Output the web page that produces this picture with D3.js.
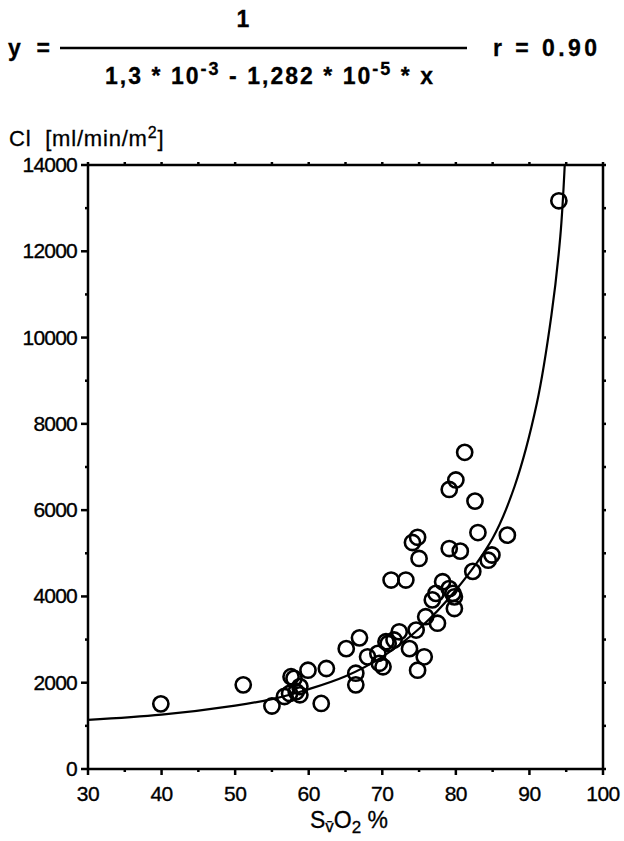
<!DOCTYPE html>
<html>
<head>
<meta charset="utf-8">
<script src="https://cdn.jsdelivr.net/npm/d3@7"></script>
<style>
  body { margin: 0; background: #fff; }
  svg text { font-family: "Liberation Sans", Arial, sans-serif; fill: #000; }
</style>
</head>
<body>
<div id="chart"></div>
<script>
// SvO2 (%) of each measurement
const svo2 = [39.9, 51.1, 55.0, 56.7, 57.4, 57.6, 58.0, 58.3, 58.8, 58.8,
  59.9, 61.7, 62.4, 65.1, 66.4, 66.4, 66.9, 68.0, 69.4, 69.6,
  70.1, 70.5, 70.8, 71.6, 72.3, 73.7, 74.8, 75.7, 74.6, 75.9,
  77.5, 76.8, 77.3, 79.6, 79.8, 79.8, 78.2, 79.1, 71.2, 73.2,
  74.1, 74.8, 75.0, 79.1, 80.6, 82.3, 84.4, 84.9, 83.0, 87.0,
  82.6, 79.1, 80.0, 81.2, 94.0];
// cardiac index (ml/min/m2) for the same points
const ci = [1510, 1950, 1460, 1680, 1750, 2140, 2100, 1790, 1910, 1720,
  2290, 1520, 2330, 2790, 2220, 1950, 3040, 2600, 2680, 2450,
  2370, 2950, 2910, 2990, 3180, 2790, 2290, 2600, 3220, 3530,
  3380, 3920, 4070, 4070, 3990, 3720, 4340, 4180, 4380, 4380,
  5250, 5370, 4880, 5110, 5050, 4580, 4840, 4960, 5480, 5420,
  6210, 6480, 6700, 7340, 13170];

// fitted curve
const fitX = [30, 40, 50, 55, 60, 65, 70, 75, 80, 85, 88, 91, 93, 94.2, 94.8];
const fitY = [1140, 1260, 1470, 1620, 1850, 2150, 2600, 3250, 4150, 5350, 6560, 8470, 10530, 12350, 14000];

const xTicks = [30, 40, 50, 60, 70, 80, 90, 100];
const yTicks = [0, 2000, 4000, 6000, 8000, 10000, 12000, 14000];

const W = 624, H = 841;
const margin = { left: 88, right: 21, top: 165, bottom: 72 };

const svg = d3.select("#chart").append("svg")
  .attr("width", W)
  .attr("height", H);

const x = d3.scaleLinear().domain([30, 100]).range([margin.left, W - margin.right]);
const y = d3.scaleLinear().domain([0, 14000]).range([H - margin.bottom, margin.top]);

// Equation header
const eq = svg.append("g")
  .style("font-weight", "bold").style("font-size", "23px")
  .attr("stroke", "#000").attr("stroke-width", 0.3);
eq.append("text").attr("x", 8).attr("y", 56)
  .attr("textLength", 42).attr("lengthAdjust", "spacing")
  .attr("xml:space", "preserve").text("y =");
eq.append("line")
  .attr("x1", 60).attr("x2", 467).attr("y1", 48).attr("y2", 48)
  .attr("stroke", "#000").attr("stroke-width", 2.4);
eq.append("text").attr("x", 243).attr("y", 27).attr("text-anchor", "middle").text("1");
const den = eq.append("text").attr("x", 105).attr("y", 84)
  .attr("textLength", 328).attr("lengthAdjust", "spacing")
  .attr("xml:space", "preserve");
den.append("tspan").text("1,3 * 10");
den.append("tspan").attr("dy", -9).style("font-size", "18px").text("-3");
den.append("tspan").attr("dy", 9).text(" - 1,282 * 10");
den.append("tspan").attr("dy", -9).style("font-size", "18px").text("-5");
den.append("tspan").attr("dy", 9).text(" * x");
eq.append("text").attr("x", 493).attr("y", 56)
  .attr("textLength", 104).attr("lengthAdjust", "spacing")
  .attr("xml:space", "preserve").text("r = 0.90");

// Axis frame
const frame = svg.append("g");
const axisLine = (x1, y1, x2, y2) => frame.append("line")
  .attr("x1", x1).attr("y1", y1).attr("x2", x2).attr("y2", y2)
  .attr("stroke", "#000").attr("stroke-width", 2.5);

const minorX = d3.range(35, 100, 10);
const minorY = d3.range(1000, 14000, 2000);

// ticks
xTicks.forEach(t => axisLine(x(t), y(0), x(t), y(0) + 6));
minorX.forEach(t => axisLine(x(t), y(0), x(t), y(0) + 3));
xTicks.concat(minorX).forEach(t => axisLine(x(t), y(14000), x(t), y(14000) - 3));
yTicks.forEach(t => axisLine(x(30), y(t), x(30) - 7, y(t)));
minorY.forEach(t => axisLine(x(30), y(t), x(30) - 3, y(t)));
yTicks.concat(minorY).forEach(t => axisLine(x(100), y(t), x(100) + 3, y(t)));

axisLine(x(30), y(0), x(100), y(0));
axisLine(x(30), y(0), x(30), y(14000));
axisLine(x(30), y(14000), x(100), y(14000));
axisLine(x(100), y(0), x(100), y(14000));

// tick labels
const labels = svg.append("g")
  .style("font-size", "21px")
  .attr("stroke", "#000").attr("stroke-width", 0.35);

labels.append("g").selectAll("text")
  .data(xTicks)
  .join("text")
  .attr("x", d => x(d))
  .attr("y", y(0) + 32)
  .attr("text-anchor", "middle")
  .style("letter-spacing", "-0.5px")
  .text(d => d);

labels.append("g").selectAll("text")
  .data(yTicks)
  .join("text")
  .attr("x", x(30) - 11)
  .attr("y", d => y(d) + 7)
  .attr("text-anchor", "end")
  .style("letter-spacing", "-0.8px")
  .text(d => d);

// axis titles
const yTitle = svg.append("text").attr("x", 9).attr("y", 146)
  .attr("xml:space", "preserve").style("font-size", "22px")
  .style("letter-spacing", "0.8px")
  .attr("stroke", "#000").attr("stroke-width", 0.3);
yTitle.append("tspan").text("Cl  [ml/min/m");
yTitle.append("tspan").attr("dy", -8).style("font-size", "16px").text("2");
yTitle.append("tspan").attr("dy", 8).text("]");

const xTitle = svg.append("text").attr("x", 349).attr("y", 828)
  .attr("text-anchor", "middle").attr("xml:space", "preserve").style("font-size", "23px")
  .attr("stroke", "#000").attr("stroke-width", 0.3);
xTitle.append("tspan").text("S");
xTitle.append("tspan").attr("dy", 4).style("font-size", "17px").text("v\u0304");
xTitle.append("tspan").attr("dy", -4).text("O");
xTitle.append("tspan").attr("dy", 5).style("font-size", "17px").text("2");
xTitle.append("tspan").attr("dy", -5).text(" %");

// fitted curve
const line = d3.line()
  .x(d => x(d[0]))
  .y(d => y(d[1]))
  .curve(d3.curveCatmullRom.alpha(0.5));

svg.append("path")
  .datum(d3.zip(fitX, fitY))
  .attr("d", line)
  .attr("fill", "none")
  .attr("stroke", "#000")
  .attr("stroke-width", 2.2);

// data points
svg.append("g").selectAll("circle")
  .data(d3.zip(svo2, ci))
  .join("circle")
  .attr("cx", d => x(d[0]))
  .attr("cy", d => y(d[1]))
  .attr("r", 7.6)
  .attr("fill", "none")
  .attr("stroke", "#000")
  .attr("stroke-width", 2.6);
</script>
</body>
</html>
